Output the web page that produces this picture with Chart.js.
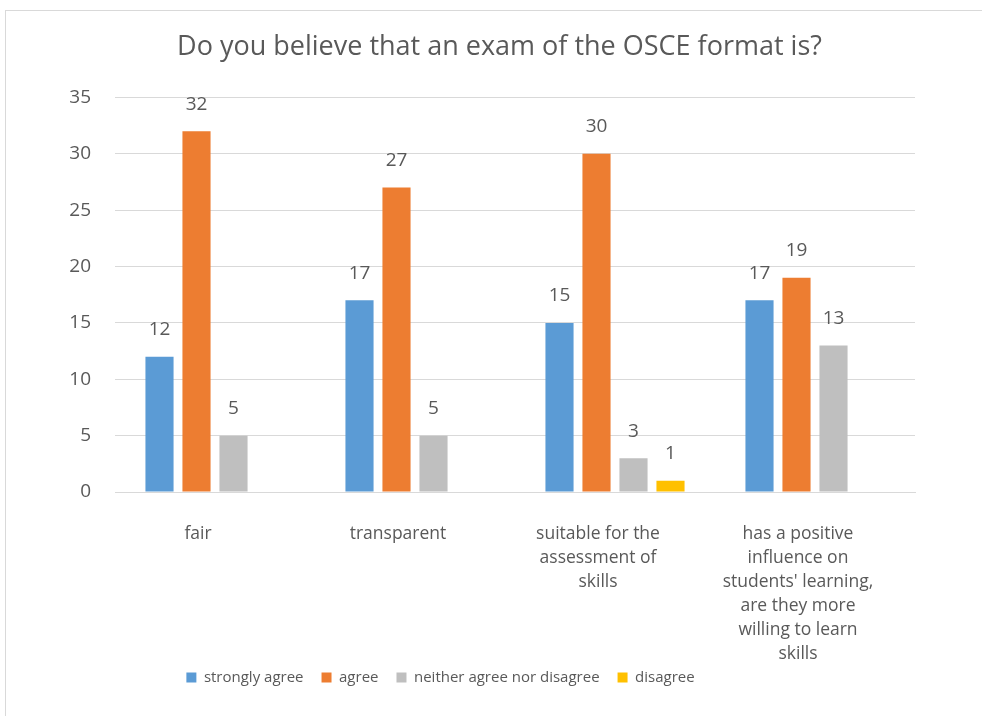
<!DOCTYPE html>
<html>
<head>
<meta charset="utf-8">
<script src="https://cdn.jsdelivr.net/npm/chart.js@4"></script>
<style>
  html, body { margin: 0; padding: 0; background: #fff; }
  #wrap { position: relative; width: 982px; height: 716px; }
  #frame { position: absolute; left: 5px; top: 10px; right: -2px; bottom: -2px; border-top: 1px solid #d9d9d9; border-left: 1px solid #d9d9d9; pointer-events: none; }
  canvas { position: absolute; left: 0; top: 0; }
</style>
</head>
<body>
<div id="wrap">
  <canvas id="c" width="982" height="716"></canvas>
  <div id="frame"></div>
</div>
<script>
const titleText = "Do you believe that an exam of the OSCE format is?";
const categories = [
  ["fair"],
  ["transparent"],
  ["suitable for the", "assessment of", "skills"],
  ["has a positive", "influence on", "students' learning,", "are they more", "willing to learn", "skills"]
];
const seriesNames = ["strongly agree", "agree", "neither agree nor disagree", "disagree"];
const stronglyAgree = [12, 17, 15, 17];
const agree = [32, 27, 30, 19];
const neither = [5, 5, 3, 13];
const disagree = [null, null, 1, null];
const yTicks = [0, 5, 10, 15, 20, 25, 30, 35];

const colors = ["#5b9bd5", "#ed7d31", "#bfbfbf", "#ffc000"];
const FONT = "'Open Sans', 'Noto Sans', sans-serif";
const TXT = "#595959";

const valueLabels = {
  id: 'valueLabels',
  afterDatasetsDraw(chart) {
    const ctx = chart.ctx;
    ctx.save();
    ctx.font = "19px " + FONT;
    ctx.fillStyle = TXT;
    ctx.textAlign = 'center';
    ctx.textBaseline = 'middle';
    chart.data.datasets.forEach((ds, i) => {
      const meta = chart.getDatasetMeta(i);
      meta.data.forEach((bar, j) => {
        const v = ds.data[j];
        if (v === null || v === undefined) return;
        ctx.fillText(String(v), bar.x, bar.y - 27);
      });
    });
    ctx.restore();
  }
};

const boxShift = {
  id: 'boxShift',
  afterLayout(chart) {
    const lg = chart.legend;
    if (lg) { lg.left -= 17; lg.right -= 17; lg.top -= 21; lg.bottom -= 21; }
    const t = chart.titleBlock;
    if (t) { t.left += 42; t.right += 42; }
  }
};

new Chart(document.getElementById('c'), {
  type: 'bar',
  data: {
    labels: categories,
    datasets: [
      { label: seriesNames[0], data: stronglyAgree, backgroundColor: colors[0] },
      { label: seriesNames[1], data: agree, backgroundColor: colors[1] },
      { label: seriesNames[2], data: neither, backgroundColor: colors[2] },
      { label: seriesNames[3], data: disagree, backgroundColor: colors[3] }
    ]
  },
  options: {
    responsive: false,
    animation: false,
    layout: { padding: { left: 0, right: 67, top: 0, bottom: 0 } },
    datasets: { bar: { categoryPercentage: 0.74, barPercentage: 0.76 } },
    plugins: {
      title: {
        display: true,
        text: titleText,
        color: TXT,
        font: { family: FONT, size: 27, weight: 'normal', lineHeight: 1.2 },
        padding: { top: 31, bottom: 34 }
      },
      legend: {
        position: 'bottom',
        labels: {
          color: TXT,
          font: { family: FONT, size: 15 },
          boxWidth: 10,
          boxHeight: 10,
          padding: 18
        }
      },
      tooltip: { enabled: false }
    },
    scales: {
      x: {
        grid: { display: false, drawTicks: false },
        border: { display: true, color: '#d9d9d9' },
        ticks: {
          color: TXT,
          font: { family: FONT, size: 17.5, lineHeight: 1.37 },
          padding: 30,
          labelOffset: -17,
          maxRotation: 0,
          autoSkip: false
        },
        afterFit(s) { s.height = 181; }
      },
      y: {
        min: 0, max: 35,
        afterBuildTicks(s) { s.ticks = yTicks.map(v => ({ value: v })); },
        grid: { color: '#d9d9d9', drawTicks: false },
        border: { display: false },
        ticks: {
          color: TXT,
          font: { family: FONT, size: 19 },
          padding: 24
        },
        afterFit(s) { s.width = 115; }
      }
    }
  },
  plugins: [valueLabels, boxShift]
});
</script>
</body>
</html>
